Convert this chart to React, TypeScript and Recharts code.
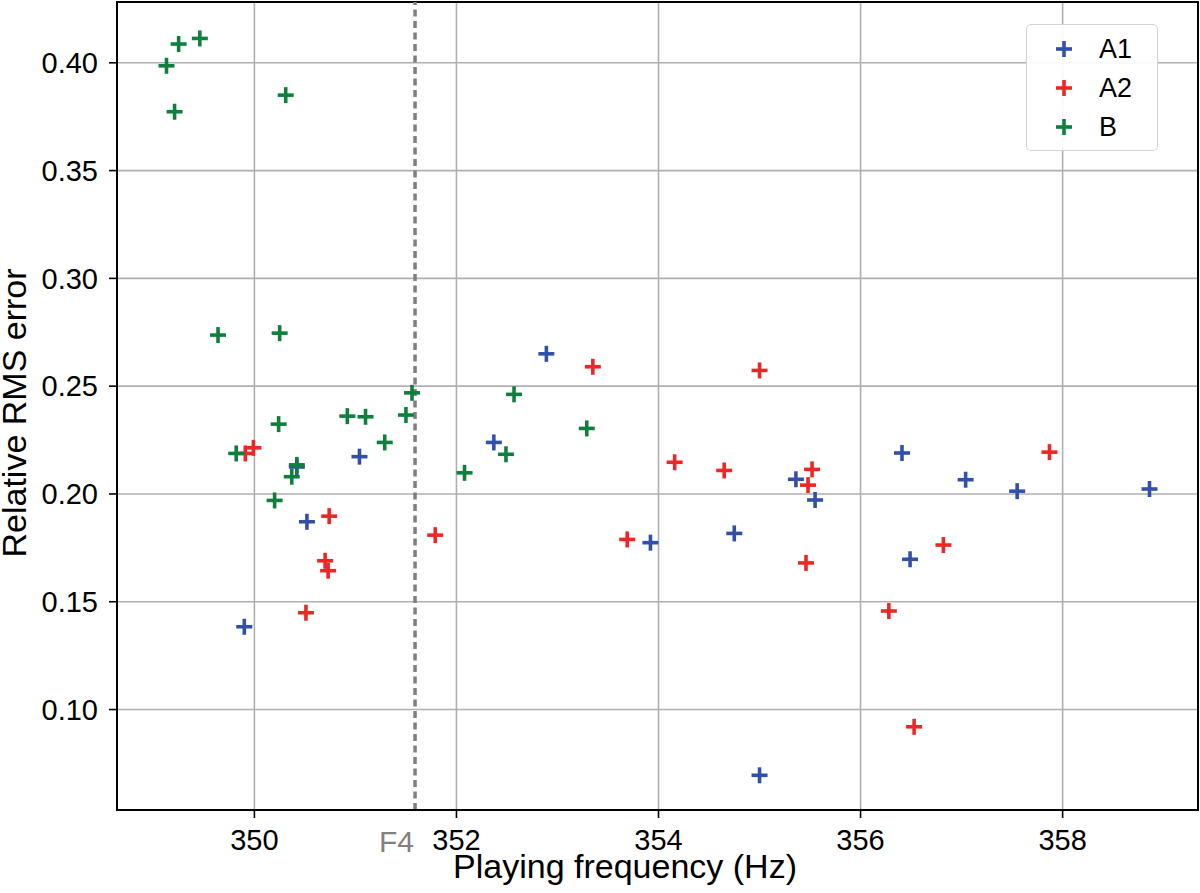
import React from 'react';
import {
  ScatterChart,
  Scatter,
  XAxis,
  YAxis,
  CartesianGrid,
  ReferenceLine,
  ReferenceArea,
  Legend,
} from 'recharts';

// ---- Data ----
const a1Freq = [352.89, 352.37, 351.04, 350.52, 349.90, 350.42, 353.92, 354.75, 355.36, 355.55, 355.0, 356.41, 356.49, 357.04, 357.55, 358.86];
const a1Err = [0.265, 0.2239, 0.2173, 0.1871, 0.1384, 0.2125, 0.1774, 0.1817, 0.2068, 0.1972, 0.0695, 0.219, 0.1697, 0.2066, 0.2013, 0.2023];

const a2Freq = [349.91, 349.99, 350.74, 350.70, 350.73, 350.51, 351.79, 353.35, 355.0, 354.16, 354.65, 355.52, 355.48, 353.69, 355.46, 356.28, 357.87, 356.82, 356.53];
const a2Err = [0.2188, 0.2214, 0.1897, 0.169, 0.1644, 0.1449, 0.1809, 0.259, 0.2573, 0.2147, 0.2109, 0.2114, 0.2041, 0.1789, 0.168, 0.1457, 0.2194, 0.1763, 0.092];

const bFreq = [349.25, 349.46, 349.13, 349.21, 350.31, 349.64, 350.25, 351.56, 352.57, 350.92, 351.10, 351.50, 350.24, 351.29, 349.82, 350.42, 350.37, 350.20, 352.08, 352.49, 353.29];
const bErr = [0.4087, 0.4113, 0.3986, 0.3773, 0.385, 0.2737, 0.2746, 0.2469, 0.2462, 0.2361, 0.2358, 0.2366, 0.2324, 0.2239, 0.2188, 0.2135, 0.208, 0.197, 0.2098, 0.2184, 0.2304];

const xTicks = [350, 352, 354, 356, 358];
const yTicks = [0.1, 0.15, 0.2, 0.25, 0.3, 0.35, 0.4];
const xDomain = [348.64, 359.34];
const yDomain = [0.0534, 0.4282];
const f4Freq = 351.59;

const seriesNames = ['A1', 'A2', 'B'];
const seriesColors: Record<string, string> = { A1: '#3150a9', A2: '#ee2626', B: '#0f7f3c' };

const toPoints = (xs: number[], ys: number[]) => xs.map((x, i) => ({ x, y: ys[i] }));
const a1Data = toPoints(a1Freq, a1Err);
const a2Data = toPoints(a2Freq, a2Err);
const bData = toPoints(bFreq, bErr);

const FONT = '"Liberation Sans", Arial, sans-serif';

const makePlus = (color: string) => (props: any) => {
  const { cx, cy } = props;
  if (cx == null || cy == null) return <g />;
  const h = 8;
  return (
    <g>
      <line x1={cx - h} y1={cy} x2={cx + h} y2={cy} stroke={color} strokeWidth={3.6} />
      <line x1={cx} y1={cy - h} x2={cx} y2={cy + h} stroke={color} strokeWidth={3.6} />
    </g>
  );
};

const LegendBox = () => (
  <div
    style={{
      position: 'relative',
      width: 132,
      height: 127,
      boxSizing: 'border-box',
      border: '1.5px solid #d3d3d3',
      borderRadius: 5,
      background: 'rgba(255,255,255,0.9)',
      fontFamily: FONT,
    }}
  >
    {seriesNames.map((name, i) => {
      const cy = 24 + i * 39;
      const color = seriesColors[name];
      return (
        <React.Fragment key={name}>
          <svg
            width={20}
            height={20}
            style={{ position: 'absolute', left: 27, top: cy - 10 }}
          >
            <line x1={2} y1={10} x2={18} y2={10} stroke={color} strokeWidth={3.6} />
            <line x1={10} y1={2} x2={10} y2={18} stroke={color} strokeWidth={3.6} />
          </svg>
          <div
            style={{
              position: 'absolute',
              left: 72,
              top: cy - 16,
              height: 32,
              lineHeight: '32px',
              fontSize: 27,
              color: '#000',
            }}
          >
            {name}
          </div>
        </React.Fragment>
      );
    })}
  </div>
);

const F4Label = (props: any) => {
  const vb = props.viewBox || {};
  const x = vb.x ?? 0;
  const bottom = (vb.y ?? 0) + (vb.height ?? 0);
  return (
    <text x={x - 1} y={bottom + 41.5} textAnchor="end" fontFamily={FONT} fontSize={30} fill="#808080">
      F4
    </text>
  );
};

const XLabel = (props: any) => {
  const vb = props.viewBox || {};
  return (
    <text x={(vb.x ?? 0) + 508} y={(vb.y ?? 0) + 68} textAnchor="middle" fontFamily={FONT} fontSize={34} fill="#000">
      Playing frequency (Hz)
    </text>
  );
};

const YLabel = (props: any) => {
  const vb = props.viewBox || {};
  const x = (vb.x ?? 0) + 26;
  const y = (vb.y ?? 0) + (vb.height ?? 0) / 2 + 7;
  return (
    <text x={x} y={y} transform={`rotate(-90 ${x} ${y})`} textAnchor="middle" fontFamily={FONT} fontSize={34} fill="#000">
      Relative RMS error
    </text>
  );
};

const tickStyle = { fontFamily: FONT, fontSize: 29, fill: '#000' };

export default function App() {
  return (
    <div style={{ position: 'absolute', left: 0, top: 0, width: 1200, height: 893, background: '#fff' }}>
      <ScatterChart width={1200} height={893} margin={{ top: 2, right: 2, left: 0, bottom: 0 }}>
        <CartesianGrid stroke="#b0b0b0" strokeWidth={1.6} />
        <XAxis
          type="number"
          dataKey="x"
          domain={xDomain}
          allowDataOverflow
          ticks={xTicks}
          height={83}
          tick={tickStyle}
          tickSize={8}
          tickMargin={11}
          tickLine={{ stroke: '#000', strokeWidth: 1.6 }}
          axisLine={{ stroke: '#000', strokeWidth: 2 }}
          label={{ content: XLabel }}
        />
        <YAxis
          type="number"
          dataKey="y"
          domain={yDomain}
          allowDataOverflow
          ticks={yTicks}
          width={117}
          tick={tickStyle}
          tickSize={8}
          tickMargin={11}
          tickFormatter={(v: number) => v.toFixed(2)}
          tickLine={{ stroke: '#000', strokeWidth: 1.6 }}
          axisLine={{ stroke: '#000', strokeWidth: 2 }}
          label={{ content: YLabel }}
        />
        <ReferenceArea
          x1={xDomain[0]}
          x2={xDomain[1]}
          y1={yDomain[0]}
          y2={yDomain[1]}
          fill="none"
          fillOpacity={0}
          stroke="#000"
          strokeWidth={2}
          ifOverflow="visible"
        />
        <ReferenceLine
          x={f4Freq}
          stroke="#7f7f7f"
          strokeWidth={3.5}
          strokeDasharray="7 4.5"
          label={<F4Label />}
        />
        <Scatter name="A1" data={a1Data} fill={seriesColors.A1} shape={makePlus(seriesColors.A1)} isAnimationActive={false} />
        <Scatter name="A2" data={a2Data} fill={seriesColors.A2} shape={makePlus(seriesColors.A2)} isAnimationActive={false} />
        <Scatter name="B" data={bData} fill={seriesColors.B} shape={makePlus(seriesColors.B)} isAnimationActive={false} />
        <Legend
          layout="horizontal"
          verticalAlign="middle"
          align="center"
          wrapperStyle={{ left: 1026, top: 24, width: 132, height: 127 }}
          content={() => <LegendBox />}
        />
      </ScatterChart>
    </div>
  );
}
